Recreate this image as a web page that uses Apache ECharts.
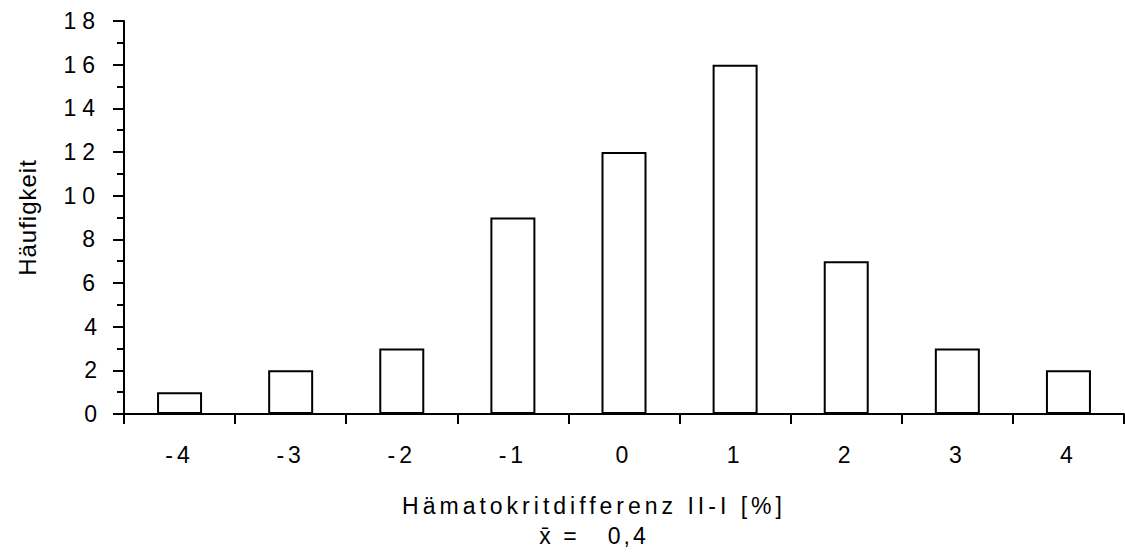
<!DOCTYPE html>
<html><head><meta charset="utf-8">
<script src="https://cdn.jsdelivr.net/npm/echarts@6/dist/echarts.min.js"></script>
<style>html,body{margin:0;padding:0;background:#fff}#c{width:1125px;height:557px}</style>
</head><body><div id="c"></div>
<script>
const categories = ['-4','-3','-2','-1','0','1','2','3','4'];
const counts = [1,2,3,9,12,16,7,3,2];
const yTicks = {min:0,max:18,interval:2};
const xTitle = 'Hämatokritdifferenz II-I [%]';
const meanLabel = 'x̄ =   0,4';
const yTitle = 'Häufigkeit';

const FONT = '"Liberation Sans", Arial, sans-serif';
const chart = echarts.init(document.getElementById('c'), null, {renderer:'svg'});
chart.setOption({
  animation:false,
  backgroundColor:'#fff',
  grid:{left:124,right:1,top:21,bottom:143,containLabel:false},
  xAxis:{type:'category',data:categories,boundaryGap:true,
    axisLine:{lineStyle:{color:'#000',width:2}},
    axisTick:{show:true,inside:false,length:10,alignWithLabel:false,lineStyle:{color:'#000',width:2}},
    axisLabel:{color:'#000',fontSize:23,fontFamily:FONT,margin:29},
    splitLine:{show:false}},
  yAxis:{type:'value',min:yTicks.min,max:yTicks.max,interval:yTicks.interval,
    name:yTitle,nameLocation:'middle',nameGap:85,nameRotate:90,
    nameTextStyle:{color:'#000',fontSize:24,fontFamily:FONT},
    axisLine:{show:true,lineStyle:{color:'#000',width:2}},
    axisTick:{show:true,inside:false,length:11,lineStyle:{color:'#000',width:2}},
    minorTick:{show:true,splitNumber:2,length:7,lineStyle:{color:'#000',width:2}},
    axisLabel:{color:'#000',fontSize:23,fontFamily:FONT,margin:23},
    splitLine:{show:false}},
  series:[{type:'bar',data:counts,barWidth:45,
    itemStyle:{color:'#fff',borderColor:'#000',borderWidth:2}}],
  graphic:[
    {type:'text',x:594,y:506,style:{text:xTitle,fill:'#000',font:'23px '+FONT,textAlign:'center',textVerticalAlign:'middle'}},
    {type:'text',x:594,y:536,style:{text:meanLabel,fill:'#000',font:'23px '+FONT,textAlign:'center',textVerticalAlign:'middle'}}
  ]
});
function spacing(){
  document.querySelectorAll('#c text').forEach(t=>{
    const s=t.textContent;
    if(s===yTitle) t.style.letterSpacing='1px';
    else if(s===xTitle) t.style.letterSpacing='4px';
    else if(s===meanLabel) t.style.letterSpacing='3px';
    else if(categories.includes(s)) t.style.letterSpacing='4px';
    else t.style.letterSpacing='6px';
  });
}
spacing();
chart.on('finished',spacing);
setTimeout(spacing,50);
</script></body></html>
